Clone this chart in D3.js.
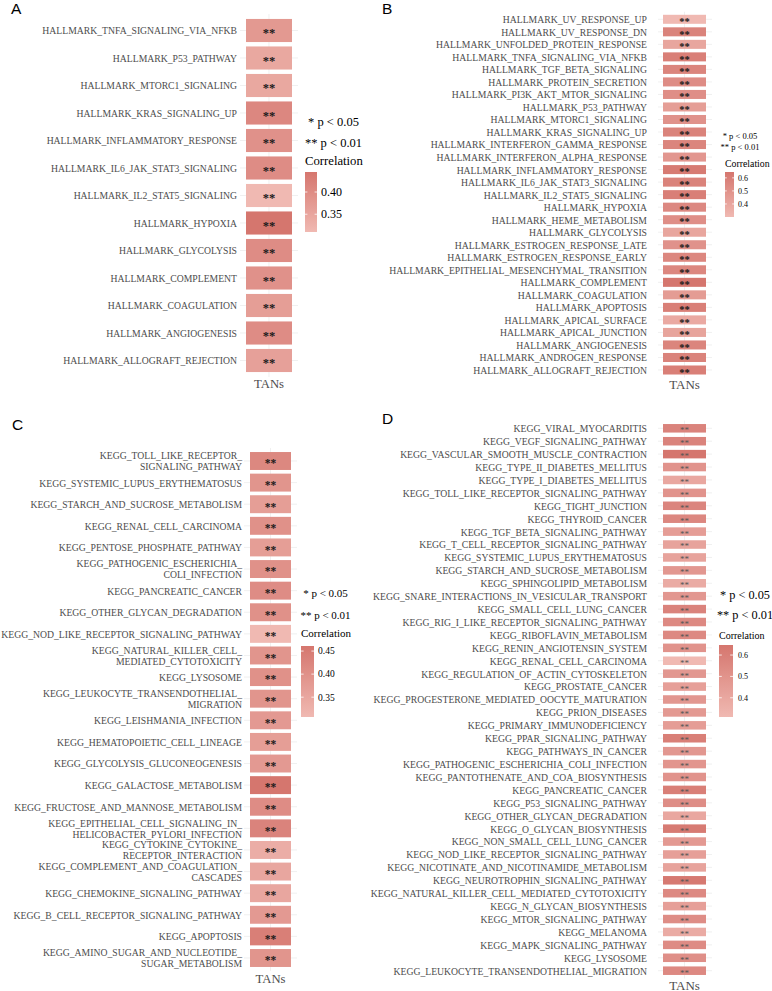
<!DOCTYPE html>
<html><head><meta charset="utf-8">
<script src="https://cdn.jsdelivr.net/npm/d3@7"></script>
<style>body{margin:0;background:#fff}svg{display:block}</style>
</head><body>
<svg id="chart" width="772" height="991"></svg>
<script>
// ---------------- DATA ----------------
const xCategory = ["TANs"];

const termsA = ["HALLMARK_TNFA_SIGNALING_VIA_NFKB","HALLMARK_P53_PATHWAY","HALLMARK_MTORC1_SIGNALING","HALLMARK_KRAS_SIGNALING_UP","HALLMARK_INFLAMMATORY_RESPONSE","HALLMARK_IL6_JAK_STAT3_SIGNALING","HALLMARK_IL2_STAT5_SIGNALING","HALLMARK_HYPOXIA","HALLMARK_GLYCOLYSIS","HALLMARK_COMPLEMENT","HALLMARK_COAGULATION","HALLMARK_ANGIOGENESIS","HALLMARK_ALLOGRAFT_REJECTION"];
const corA = [0.375,0.345,0.345,0.41,0.39,0.40,0.31,0.445,0.40,0.39,0.365,0.40,0.36];
const sigA = termsA.map(() => "**");
const ticksA = [0.35, 0.40];

const termsB = ["HALLMARK_UV_RESPONSE_UP","HALLMARK_UV_RESPONSE_DN","HALLMARK_UNFOLDED_PROTEIN_RESPONSE","HALLMARK_TNFA_SIGNALING_VIA_NFKB","HALLMARK_TGF_BETA_SIGNALING","HALLMARK_PROTEIN_SECRETION","HALLMARK_PI3K_AKT_MTOR_SIGNALING","HALLMARK_P53_PATHWAY","HALLMARK_MTORC1_SIGNALING","HALLMARK_KRAS_SIGNALING_UP","HALLMARK_INTERFERON_GAMMA_RESPONSE","HALLMARK_INTERFERON_ALPHA_RESPONSE","HALLMARK_INFLAMMATORY_RESPONSE","HALLMARK_IL6_JAK_STAT3_SIGNALING","HALLMARK_IL2_STAT5_SIGNALING","HALLMARK_HYPOXIA","HALLMARK_HEME_METABOLISM","HALLMARK_GLYCOLYSIS","HALLMARK_ESTROGEN_RESPONSE_LATE","HALLMARK_ESTROGEN_RESPONSE_EARLY","HALLMARK_EPITHELIAL_MESENCHYMAL_TRANSITION","HALLMARK_COMPLEMENT","HALLMARK_COAGULATION","HALLMARK_APOPTOSIS","HALLMARK_APICAL_SURFACE","HALLMARK_APICAL_JUNCTION","HALLMARK_ANGIOGENESIS","HALLMARK_ANDROGEN_RESPONSE","HALLMARK_ALLOGRAFT_REJECTION"];
const corB = [0.30,0.58,0.40,0.60,0.57,0.53,0.52,0.44,0.50,0.58,0.57,0.48,0.62,0.58,0.60,0.55,0.52,0.40,0.50,0.56,0.56,0.645,0.45,0.60,0.38,0.41,0.57,0.58,0.60];
const sigB = termsB.map(() => "**");
const ticksB = [0.4, 0.5, 0.6];

const termsC = ["KEGG_TOLL_LIKE_RECEPTOR_\nSIGNALING_PATHWAY","KEGG_SYSTEMIC_LUPUS_ERYTHEMATOSUS","KEGG_STARCH_AND_SUCROSE_METABOLISM","KEGG_RENAL_CELL_CARCINOMA","KEGG_PENTOSE_PHOSPHATE_PATHWAY","KEGG_PATHOGENIC_ESCHERICHIA_\nCOLI_INFECTION","KEGG_PANCREATIC_CANCER","KEGG_OTHER_GLYCAN_DEGRADATION","KEGG_NOD_LIKE_RECEPTOR_SIGNALING_PATHWAY","KEGG_NATURAL_KILLER_CELL_\nMEDIATED_CYTOTOXICITY","KEGG_LYSOSOME","KEGG_LEUKOCYTE_TRANSENDOTHELIAL_\nMIGRATION","KEGG_LEISHMANIA_INFECTION","KEGG_HEMATOPOIETIC_CELL_LINEAGE","KEGG_GLYCOLYSIS_GLUCONEOGENESIS","KEGG_GALACTOSE_METABOLISM","KEGG_FRUCTOSE_AND_MANNOSE_METABOLISM","KEGG_EPITHELIAL_CELL_SIGNALING_IN_\nHELICOBACTER_PYLORI_INFECTION","KEGG_CYTOKINE_CYTOKINE_\nRECEPTOR_INTERACTION","KEGG_COMPLEMENT_AND_COAGULATION_\nCASCADES","KEGG_CHEMOKINE_SIGNALING_PATHWAY","KEGG_B_CELL_RECEPTOR_SIGNALING_PATHWAY","KEGG_APOPTOSIS","KEGG_AMINO_SUGAR_AND_NUCLEOTIDE_\nSUGAR_METABOLISM"];
const corC = [0.42,0.39,0.37,0.40,0.37,0.40,0.41,0.40,0.307,0.39,0.40,0.39,0.38,0.37,0.38,0.461,0.41,0.43,0.335,0.35,0.35,0.38,0.44,0.39];
const sigC = termsC.map(() => "**");
const ticksC = [0.35, 0.40, 0.45];

const termsD = ["KEGG_VIRAL_MYOCARDITIS","KEGG_VEGF_SIGNALING_PATHWAY","KEGG_VASCULAR_SMOOTH_MUSCLE_CONTRACTION","KEGG_TYPE_II_DIABETES_MELLITUS","KEGG_TYPE_I_DIABETES_MELLITUS","KEGG_TOLL_LIKE_RECEPTOR_SIGNALING_PATHWAY","KEGG_TIGHT_JUNCTION","KEGG_THYROID_CANCER","KEGG_TGF_BETA_SIGNALING_PATHWAY","KEGG_T_CELL_RECEPTOR_SIGNALING_PATHWAY","KEGG_SYSTEMIC_LUPUS_ERYTHEMATOSUS","KEGG_STARCH_AND_SUCROSE_METABOLISM","KEGG_SPHINGOLIPID_METABOLISM","KEGG_SNARE_INTERACTIONS_IN_VESICULAR_TRANSPORT","KEGG_SMALL_CELL_LUNG_CANCER","KEGG_RIG_I_LIKE_RECEPTOR_SIGNALING_PATHWAY","KEGG_RIBOFLAVIN_METABOLISM","KEGG_RENIN_ANGIOTENSIN_SYSTEM","KEGG_RENAL_CELL_CARCINOMA","KEGG_REGULATION_OF_ACTIN_CYTOSKELETON","KEGG_PROSTATE_CANCER","KEGG_PROGESTERONE_MEDIATED_OOCYTE_MATURATION","KEGG_PRION_DISEASES","KEGG_PRIMARY_IMMUNODEFICIENCY","KEGG_PPAR_SIGNALING_PATHWAY","KEGG_PATHWAYS_IN_CANCER","KEGG_PATHOGENIC_ESCHERICHIA_COLI_INFECTION","KEGG_PANTOTHENATE_AND_COA_BIOSYNTHESIS","KEGG_PANCREATIC_CANCER","KEGG_P53_SIGNALING_PATHWAY","KEGG_OTHER_GLYCAN_DEGRADATION","KEGG_O_GLYCAN_BIOSYNTHESIS","KEGG_NON_SMALL_CELL_LUNG_CANCER","KEGG_NOD_LIKE_RECEPTOR_SIGNALING_PATHWAY","KEGG_NICOTINATE_AND_NICOTINAMIDE_METABOLISM","KEGG_NEUROTROPHIN_SIGNALING_PATHWAY","KEGG_NATURAL_KILLER_CELL_MEDIATED_CYTOTOXICITY","KEGG_N_GLYCAN_BIOSYNTHESIS","KEGG_MTOR_SIGNALING_PATHWAY","KEGG_MELANOMA","KEGG_MAPK_SIGNALING_PATHWAY","KEGG_LYSOSOME","KEGG_LEUKOCYTE_TRANSENDOTHELIAL_MIGRATION"];
const corD = [0.58,0.58,0.647,0.50,0.40,0.50,0.57,0.56,0.45,0.42,0.42,0.48,0.38,0.48,0.58,0.55,0.55,0.50,0.31,0.48,0.44,0.48,0.47,0.45,0.60,0.48,0.49,0.50,0.60,0.53,0.40,0.62,0.47,0.44,0.42,0.63,0.55,0.44,0.53,0.38,0.54,0.52,0.55];
const sigD = termsD.map(() => "**");
const ticksD = [0.4, 0.5, 0.6];

const pLegendLines = ["* p < 0.05", "** p < 0.01"];
const legendTitle = "Correlation";
const panelLetters = ["A", "B", "C", "D"];

// ---------------- DRAW ----------------
const svg = d3.select("#chart");
const SERIF = "'Liberation Serif','Times New Roman',serif";
const SANS = "'Liberation Sans',Arial,sans-serif";
const lowCol = "#f0b9b2", highCol = "#d5766e";
let gid = 0;

function drawPanel(terms, cor, sig, ticks, tickFmt, L) {
  const g = svg.append("g");
  const y = d3.scalePoint().domain(terms).range([L.y0, L.y1]);
  const step = y.step();
  const x = d3.scaleBand().domain(xCategory).range([L.tx0, L.tx1]);
  const ext = d3.extent(cor);
  const col = d3.scaleLinear().domain(ext).range([lowCol, highCol]).interpolate(d3.interpolateRgb);

  // grid
  g.selectAll("line.h").data(terms).join("line")
    .attr("x1", L.gx0).attr("x2", L.gx1)
    .attr("y1", d => y(d)).attr("y2", d => y(d))
    .attr("stroke", "#e6e6e6").attr("stroke-width", 0.6);
  g.append("line").attr("x1", x("TANs") + x.bandwidth()/2).attr("x2", x("TANs") + x.bandwidth()/2)
    .attr("y1", L.y0 - step*0.6).attr("y2", L.y1 + step*0.6)
    .attr("stroke", "#e6e6e6").attr("stroke-width", 0.6);

  // tiles
  const th = step * L.frac;
  g.selectAll("rect.tile").data(terms).join("rect")
    .attr("x", x("TANs")).attr("width", x.bandwidth())
    .attr("y", d => y(d) - th/2).attr("height", th)
    .attr("fill", (d, i) => col(cor[i]));

  // stars
  g.selectAll("text.star").data(terms).join("text")
    .attr("x", x("TANs") + x.bandwidth()/2)
    .attr("y", d => y(d) + L.starFs*0.55)
    .attr("text-anchor", "middle")
    .style("font-family", SERIF).style("font-size", L.starFs + "px")
    .style("font-weight", L.starW).attr("fill", L.starCol)
    .text((d, i) => sig[i]);

  // y axis labels
  const ax = g.append("g").attr("transform", `translate(${L.lx},0)`)
    .call(d3.axisLeft(y).tickSize(0).tickPadding(0));
  ax.select(".domain").remove();
  ax.selectAll("text")
    .style("font-family", SERIF).style("font-size", L.lfs + "px").attr("fill", "#4d4d4d")
    .each(function(d) {
      const lines = d.split("\n");
      const t = d3.select(this).text(null).attr("dy", null);
      lines.forEach((ln, i) => {
        t.append("tspan").attr("x", 0)
          .attr("y", (i - (lines.length - 1)/2) * L.lh)
          .attr("dy", "0.35em").text(ln);
      });
    });

  // x label
  g.append("text").attr("x", x("TANs") + x.bandwidth()/2).attr("y", L.xly)
    .attr("text-anchor", "middle").style("font-family", SERIF).style("font-size", L.xlfs + "px")
    .attr("fill", "#4d4d4d").text(xCategory[0]);

  // legend p-values
  pLegendLines.forEach((t, i) => {
    g.append("text").attr("x", L.pcx).attr("y", L.py[i]).attr("text-anchor", "middle")
      .style("font-family", SERIF).style("font-size", L.pfs + "px").attr("fill", "#000").text(t);
  });
  g.append("text").attr("x", L.cbx).attr("y", L.cty)
    .style("font-family", SERIF).style("font-size", L.ctfs + "px").attr("fill", "#000").text(legendTitle);

  // colorbar
  const id = "grad" + (gid++);
  const grad = svg.append("defs").append("linearGradient").attr("id", id)
    .attr("x1", 0).attr("x2", 0).attr("y1", 1).attr("y2", 0);
  d3.range(0, 1.0001, 0.1).forEach(f => {
    grad.append("stop").attr("offset", f).attr("stop-color", col(ext[0] + f*(ext[1]-ext[0])));
  });
  const cy = d3.scaleLinear().domain(ext).range([L.cb1, L.cb0]);
  g.append("rect").attr("x", L.cbx).attr("y", L.cb0).attr("width", L.cbw).attr("height", L.cb1 - L.cb0)
    .attr("fill", `url(#${id})`);
  ticks.forEach(v => {
    g.append("line").attr("x1", L.cbx).attr("x2", L.cbx + L.cbw*0.2).attr("y1", cy(v)).attr("y2", cy(v))
      .attr("stroke", "#fff").attr("stroke-width", 0.8);
    g.append("line").attr("x1", L.cbx + L.cbw*0.8).attr("x2", L.cbx + L.cbw).attr("y1", cy(v)).attr("y2", cy(v))
      .attr("stroke", "#fff").attr("stroke-width", 0.8);
    g.append("text").attr("x", L.cbx + L.cbw + L.tkpad).attr("y", cy(v)).attr("dy", "0.35em")
      .style("font-family", SERIF).style("font-size", L.tkfs + "px").attr("fill", "#000").text(tickFmt(v));
  });

  // panel letter
  g.append("text").attr("x", L.lettX).attr("y", L.lettY)
    .style("font-family", SANS).style("font-size", "15.5px").attr("fill", "#000").text(L.letter);
}

drawPanel(termsA, corA, sigA, ticksA, d3.format(".2f"), {
  letter: panelLetters[0], lettX: 11, lettY: 14,
  y0: 30.5, y1: 360.5, frac: 0.84, tx0: 246, tx1: 292, gx0: 240, gx1: 298,
  lx: 237, lfs: 9.7, lh: 11, starFs: 12.5, starW: "bold", starCol: "#1a1a1a",
  xly: 387.5, xlfs: 12.7,
  pcx: 333.5, py: [125.5, 146.5], pfs: 12.5, cty: 164.5, ctfs: 12.7,
  cbx: 305, cbw: 12, cb0: 172, cb1: 232, tkpad: 4, tkfs: 12
});

drawPanel(termsB, corB, sigB, ticksB, d3.format(".1f"), {
  letter: panelLetters[1], lettX: 382, lettY: 14,
  y0: 19.3, y1: 370, frac: 0.72, tx0: 663, tx1: 706, gx0: 658, gx1: 712,
  lx: 647, lfs: 9.7, lh: 11, starFs: 10.5, starW: "bold", starCol: "#1a1a1a",
  xly: 389, xlfs: 13,
  pcx: 740, py: [139, 150], pfs: 8.5, cty: 166.5, ctfs: 9.8,
  cbx: 725, cbw: 9, cb0: 172, cb1: 217, tkpad: 4, tkfs: 8
});

drawPanel(termsC, corC, sigC, ticksC, d3.format(".2f"), {
  letter: panelLetters[2], lettX: 12, lettY: 430,
  y0: 461, y1: 958, frac: 0.83, tx0: 250, tx1: 291, gx0: 244, gx1: 297,
  lx: 242, lfs: 9.7, lh: 11, starFs: 11.5, starW: "bold", starCol: "#1a1a1a",
  xly: 982.5, xlfs: 12.7,
  pcx: 325.5, py: [597, 619], pfs: 11, cty: 637, ctfs: 11,
  cbx: 301, cbw: 13, cb0: 646, cb1: 717, tkpad: 4, tkfs: 9.5
});

drawPanel(termsD, corD, sigD, ticksD, d3.format(".1f"), {
  letter: panelLetters[3], lettX: 382, lettY: 424,
  y0: 428.3, y1: 970.7, frac: 0.66, tx0: 663, tx1: 706, gx0: 658, gx1: 712,
  lx: 647, lfs: 9.7, lh: 11, starFs: 9, starW: "normal", starCol: "#555",
  xly: 989.5, xlfs: 13,
  pcx: 745, py: [599, 619], pfs: 12.3, cty: 638.5, ctfs: 10,
  cbx: 719, cbw: 14, cb0: 645, cb1: 717, tkpad: 5, tkfs: 8
});
</script>
</body></html>
